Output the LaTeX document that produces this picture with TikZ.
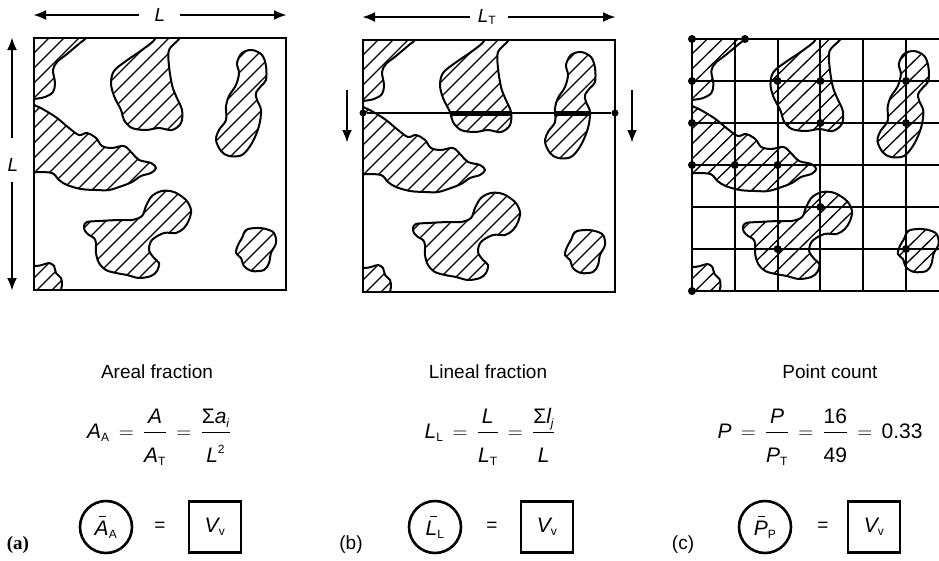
\documentclass[tikz,border=0pt]{standalone}
\usepackage{fontspec}
\setmainfont{Liberation Sans}
\newfontfamily\labserif{Liberation Serif}
\usepackage{amsmath}
\usetikzlibrary{arrows.meta}
\newcommand\itx[1]{\text{\itshape #1}}
\newcommand\sbx[1]{_{\text{\fontsize{12}{13}\selectfont #1}}}
\newcommand\dn{\rule{0pt}{27pt}}
\newcommand\barx[1]{\text{\makebox[0pt][l]{\hspace{4pt}\rule[18pt]{7pt}{1.4pt}}\itshape #1}}
\newcommand\eqx{\,=\,}
\tikzset{
  every node/.style={font=\fontsize{19}{22}\selectfont, inner sep=0pt},
  big/.style={font=\fontsize{21}{24}\selectfont},
  sq/.style={line width=2.7pt},
  blobline/.style={line width=2pt, line join=round},
  hatchl/.style={line width=1.3pt},
  arr/.style={line width=2.6pt, -{Latex[length=13pt,width=10pt]}},
  dot/.style={circle, fill, minimum size=8pt, inner sep=0pt},
  ring/.style={circle, draw, line width=2.6pt, minimum size=52pt, big},
  vbox/.style={draw, line width=2.6pt, minimum width=52pt, minimum height=51pt, big},
  gridl/.style={line width=1.9pt},
  bA/.style={insert path={plot[smooth cycle, tension=0.55] coordinates {(-8,-8) (55,-8) (52,0) (46,5) (33,16) (23,24) (19,32) (21,45) (19,54) (11,59) (0,61) (-8,62)}}},
  bB/.style={insert path={plot[smooth cycle, tension=0.55] coordinates {(118,-8) (121,1) (108,12) (92,23) (80,33) (77,45) (80,58) (87,72) (90,82) (98,90) (112,92) (125,90) (138,92) (147,85) (148,72) (142,58) (138,47) (135,28) (135,12) (145,1) (148,-8)}}},
  bC/.style={insert path={plot[smooth cycle, tension=0.55] coordinates {(218,12) (228,17) (232,28) (232,42) (227,48) (222,55) (223,62) (227,72) (225,88) (218,105) (208,117) (195,118) (187,113) (182,102) (185,92) (192,82) (192,68) (195,58) (202,47) (205,35) (203,25) (208,15)}}},
  bD/.style={insert path={plot[smooth cycle, tension=0.55] coordinates {(-8,68) (2,68) (12,73) (23,80) (35,90) (45,97) (53,95) (62,100) (68,108) (78,110) (90,108) (98,115) (105,122) (117,125) (122,130) (117,135) (107,138) (98,144) (88,148) (75,152) (62,152) (47,151) (33,147) (25,142) (18,135) (2,134) (-8,134)}}},
  bE/.style={insert path={plot[smooth cycle, tension=0.55] coordinates {(50,188) (53,184) (65,183) (85,182) (98,182) (108,178) (112,168) (118,158) (128,153) (140,154) (152,162) (157,172) (155,182) (150,190) (142,195) (130,195) (118,202) (115,212) (120,220) (125,225) (123,233) (117,238) (105,240) (93,237) (82,235) (72,232) (65,225) (62,215) (62,205) (60,200) (55,197) (51,193)}}},
  bF/.style={insert path={plot[smooth cycle, tension=0.55] coordinates {(212,192) (222,190) (232,191) (240,195) (242,205) (237,215) (235,225) (230,232) (218,233) (210,228) (207,220) (202,215) (204,207) (208,200)}}},
  bG/.style={insert path={plot[smooth cycle, tension=0.55] coordinates {(-8,228) (2,228) (8,227) (15,225) (20,228) (22,235) (27,240) (28,247) (27,252) (26,260) (-8,260)}}},
}
\newcommand\hblob[1]{%
  \begin{scope}\clip[#1];\foreach \hh in {0,15,...,510}{\draw[hatchl] (\hh,0) -- ++(-260,260);}\end{scope}%
  \draw[blobline,#1];}
\newcommand\allblobs{%
  \begin{scope}\clip (0,0) rectangle (252,252);
  \hblob{bA}\hblob{bB}\hblob{bC}\hblob{bD}\hblob{bE}\hblob{bF}\hblob{bG}
  \end{scope}}
\begin{document}
\begin{tikzpicture}[x=1pt,y=-1pt]
\useasboundingbox (0,0) rectangle (939,560);
\begin{scope}
\clip (0,0) rectangle (939,560);
% ---------- panel (a)
\begin{scope}[shift={(34,38)}]
  \allblobs
  \draw[sq] (0,0) rectangle (252,252);
\end{scope}
\node (La) at (160,15) {\itshape L};
\coordinate (aH0) at (139,15); \coordinate (aH1) at (33,15);
\coordinate (aH2) at (180,15); \coordinate (aH3) at (287,15);
\draw[arr] (aH0) -- (aH1);
\draw[arr] (aH2) -- (aH3);
\node (Lv) at (13,165) {\itshape L};
\coordinate (aV0) at (12,138); \coordinate (aV1) at (12,37);
\coordinate (aV2) at (12,182); \coordinate (aV3) at (12,291);
\draw[arr] (aV0) -- (aV1);
\draw[arr] (aV2) -- (aV3);
% ---------- panel (b)
\begin{scope}[shift={(363,40)}]
  \allblobs
  \begin{scope}\clip[bB]; \draw[line width=5pt] (0,73) -- (252,73);\end{scope}
  \begin{scope}\clip[bC]; \draw[line width=5pt] (0,73) -- (252,73);\end{scope}
  \draw[sq] (0,0) rectangle (252,252);
  \node[dot, minimum size=7pt] (bl) at (0,73) {};
  \node[dot, minimum size=7pt] (br) at (252,73) {};
  \draw[line width=1.8pt] (bl) -- (br);
\end{scope}
\node (LT) at (487,17) {$\itx{L}\sbx{T}$};
\coordinate (bH0) at (470,17); \coordinate (bH1) at (362,17);
\coordinate (bH2) at (508,17); \coordinate (bH3) at (616,17);
\draw[arr] (bH0) -- (bH1);
\draw[arr] (bH2) -- (bH3);
\coordinate (bD0) at (347,90); \coordinate (bD1) at (347,143);
\coordinate (bD2) at (632,90); \coordinate (bD3) at (632,143);
\draw[arr] (bD0) -- (bD1);
\draw[arr] (bD2) -- (bD3);
% ---------- panel (c)
\begin{scope}[shift={(692,39)}, xscale=1.019]
  \allblobs
  \foreach \k in {42,84,...,210} {
    \draw[gridl] (\k,0) -- (\k,252);
    \draw[gridl] (0,\k) -- (252,\k);
  }
  \draw[sq] (0,0) rectangle (252,252);
  \foreach \px/\py [count=\n] in {0/0,52/0,0/42,84/42,126/42,210/42,0/84,126/84,210/84,0/126,42/126,84/126,126/168,84/210,210/210,0/252}
    \node[dot] (p\n) at (\px,\py) {};
\end{scope}
\end{scope}
% ---------- captions
\node[anchor=base] (ha) at (157,378) {Areal fraction};
\node[anchor=base] (hb) at (488,378) {Lineal fraction};
\node[anchor=base] (hc) at (830,378) {Point count};
\node[big, anchor=base] (fa) at (159,438) {$\itx{A}\sbx{A} \eqx \dfrac{\itx{A}}{\dn\itx{A}\sbx{T}} \eqx \dfrac{\text{Σ\itshape a}\sbx{\itshape i}}{\dn\itx{L}^{\text{\fontsize{12}{13}\selectfont 2}}}$};
\node[big, anchor=base] (fb) at (490,438) {$\itx{L}\sbx{L} \eqx \dfrac{\itx{L}}{\dn\itx{L}\sbx{T}} \eqx \dfrac{\text{Σ\itshape l}\sbx{\itshape j}}{\dn\itx{L}}$};
\node[big, anchor=base] (fc) at (820,438) {$\itx{P} \eqx \dfrac{\itx{P}}{\dn\itx{P}\sbx{T}} \eqx \dfrac{\text{16}}{\dn\text{49}} \eqx \text{0.33}$};
% ---------- bottom row
\node (lab a) at (18,545) {\labserif\bfseries (a)};
\node[ring] (ca) at (106,527) {$\barx{A}\sbx{A}$};
\node (ea) at (160,527) {=};
\node[vbox] (va) at (215,527) {$\itx{V}\sbx{v}$};
\node (lab b) at (351,545) {(b)};
\node[ring] (cb) at (435,527) {$\barx{L}\sbx{L}$};
\node (eb) at (492,527) {=};
\node[vbox] (vb) at (547,527) {$\itx{V}\sbx{v}$};
\node (lab c) at (683,545) {(c)};
\node[ring] (cc) at (765,527) {$\barx{P}\sbx{P}$};
\node (ec) at (823,527) {=};
\node[vbox] (vc) at (874,527) {$\itx{V}\sbx{v}$};
\end{tikzpicture}
\end{document}
